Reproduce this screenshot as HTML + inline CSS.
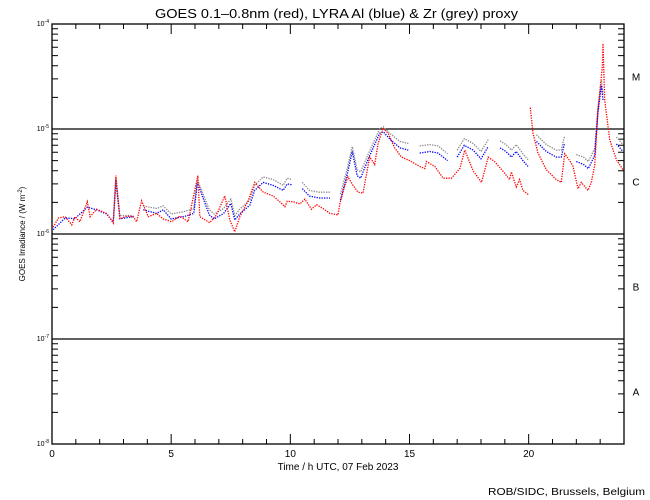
<!DOCTYPE html>
<html><head><meta charset="utf-8"><style>
body{margin:0;background:#fff}
svg{display:block;font-family:"Liberation Sans",sans-serif}
</style></head><body>
<svg id="chart" width="650" height="500" viewBox="0 0 650 500" xmlns="http://www.w3.org/2000/svg">
<rect width="650" height="500" fill="#fff"/>
<text x="155" y="18" font-size="13" textLength="363" lengthAdjust="spacingAndGlyphs">GOES 0.1–0.8nm (red), LYRA Al (blue) &amp; Zr (grey) proxy</text>
<text transform="translate(25,234) rotate(-90)" font-size="8" text-anchor="middle">GOES Irradiance / (W m<tspan font-size="6" dy="-3">-2</tspan><tspan dy="3">)</tspan></text>
<text x="338" y="470" font-size="10" text-anchor="middle">Time / h UTC, 07 Feb 2023</text>
<text x="488" y="495" font-size="10" textLength="157" lengthAdjust="spacingAndGlyphs">ROB/SIDC, Brussels, Belgium</text>
<g id="axes"></g>
<g id="series"></g>
</svg>
<script>
// Data
const redT=[0.05,0.27,0.55,0.83,0.96,1.17,1.48,1.6,1.87,2.29,2.57,2.68,2.85,3.13,3.41,3.55,3.76,4.04,4.39,4.67,5.02,5.37,5.71,6.12,6.2,6.62,6.9,7.25,7.46,7.67,7.88,8.23,8.51,8.86,9.28,9.56,9.77,9.87,10.12,10.4,10.61,10.89,11.1,11.45,11.66,12.0,12.08,12.29,12.42,12.63,12.84,13.05,13.33,13.54,13.68,13.89,14.1,14.38,14.66,15.01,15.43,15.64,15.71,16.06,16.41,16.76,17.11,17.32,17.67,18.02,18.3,18.57,18.99,19.2,19.27,19.48,19.62,19.76,20.01,null,20.07,20.18,20.39,20.74,21.16,21.37,21.51,21.72,21.86,22.07,22.21,22.49,22.63,22.77,22.91,23.09,23.12,23.19,23.4,23.68,23.96];
const redV=[1.16e-6,1.42e-6,1.46e-6,1.22e-6,1.46e-6,1.31e-6,2.03e-6,1.46e-6,1.72e-6,1.57e-6,1.27e-6,3.6e-6,1.39e-6,1.48e-6,1.46e-6,1.31e-6,2.07e-6,1.46e-6,1.57e-6,1.39e-6,1.31e-6,1.48e-6,1.31e-6,3.6e-6,1.46e-6,1.28e-6,1.52e-6,2.3e-6,1.36e-6,1.05e-6,1.46e-6,2.07e-6,3.1e-6,2.5e-6,2.3e-6,2.03e-6,1.82e-6,2.05e-6,2.03e-6,1.93e-6,2.15e-6,1.72e-6,1.9e-6,1.7e-6,1.57e-6,1.52e-6,1.95e-6,2.9e-6,3.5e-6,2.9e-6,2.5e-6,2.45e-6,5.4e-6,4.6e-6,7.2e-6,1.02e-5,9.1e-6,6.6e-6,5.4e-6,5.0e-6,4.4e-6,4.2e-6,4.9e-6,4.4e-6,3.4e-6,3.4e-6,4.2e-6,6.3e-6,4.0e-6,3.1e-6,5.4e-6,4.9e-6,3.8e-6,3.3e-6,3.9e-6,2.8e-6,3.3e-6,2.6e-6,2.35e-6,null,1.6e-5,9.1e-6,5.9e-6,4.1e-6,3.3e-6,3.1e-6,5.8e-6,5.0e-6,4.4e-6,2.7e-6,3.1e-6,2.6e-6,3.1e-6,4.5e-6,1.52e-5,3.9e-5,6.5e-5,1.89e-5,7.9e-6,5.1e-6,4.1e-6];
const blueT=[0.05,0.55,0.96,1.48,1.87,2.29,2.57,2.68,2.85,3.41,null,3.83,4.39,4.67,5.0,5.6,5.95,6.1,6.6,6.8,7.2,7.5,7.67,7.9,8.3,8.5,8.86,9.28,9.7,9.87,10.05,null,10.5,10.8,11.2,11.66,null,12.1,12.4,12.6,12.8,12.95,13.3,13.75,13.9,14.2,14.6,14.95,null,15.43,15.85,16.2,16.6,null,17.0,17.3,17.67,18.0,18.3,null,18.8,19.05,19.27,19.48,19.76,19.97,null,20.33,20.74,21.16,21.37,21.5,null,22.0,22.3,22.5,22.77,22.9,23.05,23.12,null,23.68,23.96];
const blueV=[1.1e-6,1.42e-6,1.4e-6,1.8e-6,1.7e-6,1.55e-6,1.3e-6,3.2e-6,1.4e-6,1.46e-6,null,1.7e-6,1.57e-6,1.7e-6,1.39e-6,1.48e-6,1.57e-6,3.1e-6,1.52e-6,1.39e-6,1.57e-6,1.95e-6,1.36e-6,1.57e-6,1.88e-6,2.6e-6,3.1e-6,2.9e-6,2.6e-6,3.0e-6,2.95e-6,null,2.7e-6,2.3e-6,2.2e-6,2.2e-6,null,2.1e-6,3.8e-6,6.1e-6,3.6e-6,3.4e-6,5.4e-6,9.1e-6,9.4e-6,7.9e-6,6.6e-6,6.3e-6,null,5.9e-6,6.1e-6,5.9e-6,5.0e-6,null,5.4e-6,7.0e-6,6.3e-6,5.2e-6,6.8e-6,null,6.6e-6,6.1e-6,5.4e-6,6.1e-6,5.0e-6,4.4e-6,null,7.6e-6,6.1e-6,5.4e-6,5.4e-6,7.3e-6,null,4.9e-6,4.6e-6,4.2e-6,5.6e-6,1.4e-5,2.6e-5,1.89e-5,null,7.2e-6,6.1e-6];
const greyT=[2.57,2.68,2.85,3.41,null,3.83,4.39,4.67,5.0,5.6,5.95,6.1,6.6,6.8,7.2,7.5,7.67,7.9,8.3,8.5,8.86,9.28,9.7,9.87,10.05,null,10.5,10.8,11.2,11.66,null,12.1,12.4,12.6,12.8,12.95,13.3,13.75,13.9,14.2,14.6,14.95,null,15.43,15.85,16.2,16.6,null,17.0,17.3,17.67,18.0,18.3,null,18.8,19.05,19.27,19.48,19.76,19.97,null,20.33,20.74,21.16,21.37,21.5,null,22.0,22.3,22.5,22.77,22.9,23.05,23.12,null,23.68,23.96];
const greyV=[1.35e-6,3.4e-6,1.5e-6,1.5e-6,null,1.85e-6,1.75e-6,1.85e-6,1.55e-6,1.65e-6,1.75e-6,3.3e-6,1.7e-6,1.55e-6,1.75e-6,2.15e-6,1.5e-6,1.75e-6,2.1e-6,2.9e-6,3.5e-6,3.3e-6,2.9e-6,3.4e-6,3.3e-6,null,3.1e-6,2.6e-6,2.5e-6,2.5e-6,null,2.4e-6,4.3e-6,6.8e-6,4.1e-6,3.9e-6,6.0e-6,1.0e-5,1.05e-5,9.0e-6,7.6e-6,7.3e-6,null,6.9e-6,7.1e-6,6.9e-6,5.8e-6,null,6.3e-6,8.1e-6,7.3e-6,6.1e-6,7.9e-6,null,7.7e-6,7.1e-6,6.3e-6,7.1e-6,5.8e-6,5.1e-6,null,8.8e-6,7.1e-6,6.3e-6,6.3e-6,8.5e-6,null,5.7e-6,5.4e-6,4.9e-6,6.5e-6,1.6e-5,2.9e-5,2.1e-5,null,8.4e-6,7.1e-6];
const xTicks=[0,5,10,15,20];
const yDecades=[-8,-7,-6,-5,-4];
const classLabels=["A","B","C","M"];

const X0=52,X1=624,Y0=24,Y1=444;
function xs(t){return X0+(X1-X0)*t/24;}
function ys(v){return Y1-(Math.log10(v)+8)*(Y1-Y0)/4;}
const NS="http://www.w3.org/2000/svg";
function mk(tag,attrs,parent){const e=document.createElementNS(NS,tag);for(const k in attrs)e.setAttribute(k,attrs[k]);parent.appendChild(e);return e;}
const ax=document.getElementById('axes');
const frame=mk('rect',{x:X0,y:Y0,width:X1-X0,height:Y1-Y0,fill:'none',stroke:'#000','stroke-width':1.3},ax);


let td="";
for(let h=0;h<=24;h++){const x=xs(h),L=(h%5===0)?10:5;td+=`M${x} ${Y1}v${-L}M${x} ${Y0}v${L}`;}
for(let d=-8;d<-4;d++){for(let m=2;m<=9;m++){const y=ys(m*Math.pow(10,d));td+=`M${X0} ${y}h6M${X1} ${y}h-6`;}}
const ticks=mk('path',{d:td,stroke:'#000','stroke-width':1,fill:'none'},ax);


xTicks.forEach(t=>{const e=mk('text',{x:xs(t),y:457,'font-size':10,'text-anchor':'middle'},ax);e.textContent=t;

});
yDecades.forEach(d=>{const y=ys(Math.pow(10,d));
const e=mk('text',{x:49,y:y+2,'font-size':7,'text-anchor':'end'},ax);e.innerHTML='10<tspan font-size="5" dy="-3">'+d+'</tspan>';


if(d>-8&&d<-4){const l=mk('line',{x1:X0,x2:X1,y1:y,y2:y,stroke:'#000','stroke-width':1.3},ax);

}});
classLabels.forEach((c,i)=>{const e=mk('text',{x:636,y:ys(Math.pow(10,-7.5+i))+4,'font-size':10,'text-anchor':'middle'},ax);e.textContent=c;

});
const sg=document.getElementById('series');
function draw(T,V,color,name){let d="",pen=false;
for(let i=0;i<T.length;i++){if(T[i]===null||V[i]===null){pen=false;continue;}
d+=(pen?'L':'M')+xs(T[i]).toFixed(1)+' '+ys(V[i]).toFixed(1);pen=true;}
const p=mk('path',{d:d,stroke:color,'stroke-width':1.3,fill:'none','stroke-dasharray':'1.3 1.2'},sg);

}
draw(greyT,greyV,'#888','zr-grey-series');
draw(blueT,blueV,'#0000ff','al-blue-series');
draw(redT,redV,'#ff0000','goes-red-series');
</script>
</body></html>
